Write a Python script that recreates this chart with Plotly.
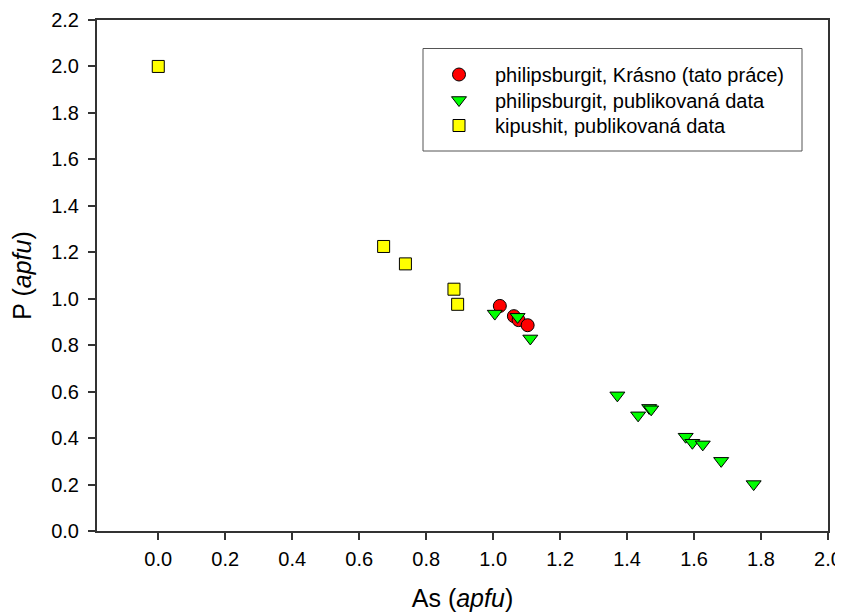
import plotly.graph_objects as go

# Data (As apfu, P apfu)
krasno_as = [1.020, 1.062, 1.076, 1.103]
krasno_p = [0.969, 0.925, 0.908, 0.886]

phil_as = [1.005, 1.073, 1.111, 1.371, 1.433, 1.466, 1.472, 1.575, 1.595, 1.626, 1.681, 1.778]
phil_p = [0.936, 0.922, 0.829, 0.584, 0.498, 0.530, 0.524, 0.406, 0.380, 0.373, 0.302, 0.202]

kip_as = [0.000, 0.673, 0.738, 0.883, 0.894]
kip_p = [2.000, 1.225, 1.150, 1.041, 0.976]

x_ticks = [0.0, 0.2, 0.4, 0.6, 0.8, 1.0, 1.2, 1.4, 1.6, 1.8, 2.0]
y_ticks = [0.0, 0.2, 0.4, 0.6, 0.8, 1.0, 1.2, 1.4, 1.6, 1.8, 2.0, 2.2]

font_family = "Liberation Sans, Arial, sans-serif"
axis_col = "#333333"

# page body has an 8px margin; figure sized/positioned to compensate
W, H = 835, 605
L, R, T, B = 89, 15, 12, 82
PW = W - L - R
PH = H - T - B


def px_x(px):
    return (px - 8 - L) / PW


def px_y(py):
    return (H - B - (py - 8)) / PH


fig = go.Figure()
fig.add_trace(go.Scatter(
    x=krasno_as, y=krasno_p, mode="markers",
    name="philipsburgit, Krásno (tato práce)", legend="legend",
    marker=dict(symbol="circle", size=13, color="#ff0000", line=dict(color="black", width=1)),
))
fig.add_trace(go.Scatter(
    x=phil_as, y=phil_p, mode="markers",
    name="philipsburgit, publikovaná data", legend="legend2",
    marker=dict(symbol="triangle-down", size=13, color="#00ff00", line=dict(color="black", width=1)),
))
fig.add_trace(go.Scatter(
    x=kip_as, y=kip_p, mode="markers",
    name="kipushit, publikovaná data", legend="legend3",
    marker=dict(symbol="square", size=12, color="#ffff00", line=dict(color="black", width=1)),
))

leg_common = dict(
    xanchor="left", yanchor="middle",
    bgcolor="rgba(0,0,0,0)", borderwidth=0,
    font=dict(size=20, family=font_family, color="black"),
    itemwidth=62,
)

fig.update_layout(
    width=W, height=H,
    margin=dict(l=L, r=R, t=T, b=B, autoexpand=False),
    paper_bgcolor="white", plot_bgcolor="white",
    font=dict(family=font_family, size=20, color="black"),
    showlegend=True,
    legend=dict(x=px_x(423), y=px_y(74.5), **leg_common),
    legend2=dict(x=px_x(423), y=px_y(100), **leg_common),
    legend3=dict(x=px_x(423), y=px_y(125.5), **leg_common),
    xaxis=dict(
        range=[-0.183, 2.0], tickvals=x_ticks, ticktext=[f"{v:.1f}" for v in x_ticks],
        showgrid=False, zeroline=False, automargin=False,
        showline=True, linecolor=axis_col, linewidth=2, mirror=True,
        ticks="outside", ticklen=7, tickwidth=1.5, tickcolor=axis_col,
        ticklabelstandoff=2,
        tickfont=dict(size=20),
        title=dict(text="As (<i>apfu</i>)", font=dict(size=25), standoff=20),
    ),
    yaxis=dict(
        range=[0.0, 2.2], tickvals=y_ticks, ticktext=[f"{v:.1f}" for v in y_ticks],
        showgrid=False, zeroline=False, automargin=False,
        showline=True, linecolor=axis_col, linewidth=2, mirror=True,
        ticks="outside", ticklen=7, tickwidth=1.5, tickcolor=axis_col,
        ticklabelstandoff=5,
        tickfont=dict(size=20),
        title=dict(text="P (<i>apfu</i>)", font=dict(size=25), standoff=13),
    ),
    shapes=[dict(
        type="rect", xref="paper", yref="paper",
        x0=px_x(423), x1=px_x(802),
        y0=px_y(151), y1=px_y(48.5),
        line=dict(color="#555555", width=1), fillcolor="rgba(0,0,0,0)",
    )],
)

fig.write_html("out.html")
